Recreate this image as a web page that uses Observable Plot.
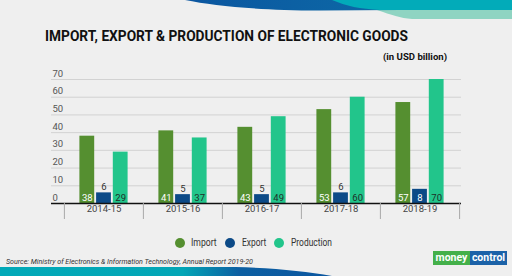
<!DOCTYPE html>
<html>
<head>
<meta charset="utf-8">
<script src="https://cdn.jsdelivr.net/npm/d3@7"></script>
<script src="https://cdn.jsdelivr.net/npm/@observablehq/plot@0.6"></script>
<style>
  html, body { margin: 0; padding: 0; background: #efefef; }
  #wrap { position: relative; width: 512px; height: 276px; overflow: hidden; background: #efefef; font-family: Roboto, "Noto Sans", sans-serif; }
  .abs { position: absolute; white-space: nowrap; }
  #title { left: 45px; top: 28px; font-size: 14px; line-height: 16px; font-weight: 700; color: #111; transform-origin: left center; }
  #unit { left: 383px; top: 52px; font-size: 8.5px; line-height: 10px; font-weight: 700; color: #111; transform-origin: left center; }
  #chart { left: 0; top: 60px; }
  #legend { left: 0; top: 236px; width: 512px; height: 14px; }
  .key { position: absolute; top: 0; font-size: 10.5px; line-height: 13px; color: #333; transform-origin: left center; }
  .dot { position: absolute; top: 2px; width: 10px; height: 10px; border-radius: 50%; }
  #source { left: 6px; top: 257px; font-size: 7.5px; line-height: 10px; font-style: italic; color: #333; transform-origin: left center; }
  #logo { left: 433px; top: 251px; height: 14px; display: flex; font-weight: 700; font-size: 10.5px; line-height: 14px; color: #fff; }
  #logo span { display: block; text-align: center; }
</style>
</head>
<body>
<div id="wrap">
  <svg class="abs" style="left:0;top:0" width="512" height="276">
    <defs>
      <linearGradient id="topBlue" x1="0" x2="1" y1="0" y2="0">
        <stop offset="0" stop-color="#0b56a0"/>
        <stop offset="1" stop-color="#0d6aa6"/>
      </linearGradient>
      <linearGradient id="bottomBand" x1="0" x2="1" y1="0" y2="0">
        <stop offset="0" stop-color="#02a9b8"/>
        <stop offset="0.55" stop-color="#03a6b6"/>
        <stop offset="0.72" stop-color="#0c5fa2"/>
        <stop offset="1" stop-color="#0b56a0"/>
      </linearGradient>
    </defs>
    <path d="M377,10 C392,15 400,18 412,19 L512,19 L512,10 Z" fill="#8fd4c2"/>
    <path d="M185,0 C215,6 255,10 320,10.5 L400,10 L400,0 Z" fill="url(#topBlue)"/>
    <path d="M332,0 C346,6 360,9 380,10 L512,10 L512,0 Z" fill="#02abb9"/>
    <path d="M0,267 L235,267 C275,268 305,271 332,276 L0,276 Z" fill="url(#bottomBand)"/>
  </svg>
  <div id="title" class="abs">IMPORT, EXPORT &amp; PRODUCTION OF ELECTRONIC GOODS</div>
  <div id="unit" class="abs">(in USD billion)</div>
  <div id="chart" class="abs"></div>
  <div id="legend" class="abs"></div>
  <div id="source" class="abs">Source: Ministry of Electronics &amp; Information Technology, Annual Report 2019-20</div>
  <div id="logo" class="abs"><span style="background:#44b04a;width:37px">money</span><span style="background:#1b62a8;width:37px">control</span></div>
</div>
<script>
// Fiscal years and values in USD billion
const years = ["2014-15", "2015-16", "2016-17", "2017-18", "2018-19"];
const importValues = [38, 41, 43, 53, 57];
const exportValues = [6, 5, 5, 6, 8];
const productionValues = [29, 37, 49, 60, 70];
const seriesNames = ["Import", "Export", "Production"];
const seriesColors = ["#558f30", "#0c4a87", "#22c58b"];
const yTicks = [0, 10, 20, 30, 40, 50, 60, 70];

const seriesValues = [importValues, exportValues, productionValues];
const rows = seriesNames.flatMap((s, i) =>
  years.map((year, j) => ({ year, series: s, value: seriesValues[i][j] }))
);

const band = (459.3 - 63.3) / years.length; // width of one year slot
const barW = 15, barStep = 16.7;
const inset = (band - barW) / 2;

const bars = seriesNames.map((s, i) =>
  Plot.barY(rows.filter(d => d.series === s), {
    x: "year", y: "value", fill: "series",
    dx: (i - 1) * barStep, insetLeft: inset, insetRight: inset
  })
);

// value labels: at the foot of each bar, or above a bar too short to hold one
const labelInside = d => d.series !== "Export" || d.value >= 7;
const labelFill = d => d.series === "Production" ? "#1e2f28" : "#ffffff";
const valueLabels = seriesNames.map((s, i) => [
  Plot.text(rows.filter(d => d.series === s && labelInside(d)), {
    x: "year", y: () => 0, text: d => String(d.value),
    dx: (i - 1) * barStep, dy: -6, fill: labelFill, fontSize: 9.5
  }),
  Plot.text(rows.filter(d => d.series === s && !labelInside(d)), {
    x: "year", y: "value", text: d => String(d.value),
    dx: (i - 1) * barStep, dy: -5.5, fill: "#333", fontSize: 9.5
  })
]).flat();

const chart = Plot.plot({
  width: 512,
  height: 165,
  marginLeft: 51,
  marginRight: 51,
  marginTop: 19,
  marginBottom: 22,
  style: { background: "transparent", fontFamily: "Roboto, 'Noto Sans', sans-serif" },
  x: { type: "band", domain: years, range: [63.3, 459.3], padding: 0, axis: null },
  y: { domain: [0, 70], axis: null },
  color: { domain: seriesNames, range: seriesColors },
  marks: [
    Plot.ruleY(yTicks.filter(t => t > 0), { stroke: "#d2d2d2", strokeWidth: 1 }),
    Plot.text(yTicks, {
      y: d => d, text: d => String(d), frameAnchor: "left", textAnchor: "start",
      dx: 1, dy: -6, fill: "#555", fontSize: 9.5
    }),
    ...bars,
    ...valueLabels,
    Plot.ruleY([0], { stroke: "#111", strokeWidth: 1.6 }),
    Plot.ruleX(years, { x: d => d, dx: -band / 2, stroke: "#a8a8a8", insetTop: 124, insetBottom: -16 }),
    Plot.ruleX(years.slice(-1), { x: d => d, dx: band / 2, stroke: "#a8a8a8", insetTop: 124, insetBottom: -16 }),
    Plot.text(years, { x: d => d, text: d => d, frameAnchor: "bottom", dy: 8.5, fill: "#444", fontSize: 9.5 })
  ]
});
document.getElementById("chart").appendChild(chart);

// legend with round keys
const legend = document.getElementById("legend");
const dotX = [175, 224.5, 274];
const labelX = [191, 241.5, 291];
const labelW = [25.7, 24.3, 41];
const keys = seriesNames.map((s, i) => {
  const dot = document.createElement("div");
  dot.className = "dot";
  dot.style.left = dotX[i] + "px";
  dot.style.background = seriesColors[i];
  legend.appendChild(dot);
  const key = document.createElement("div");
  key.className = "key";
  key.style.left = labelX[i] + "px";
  key.textContent = s;
  legend.appendChild(key);
  return key;
});

// squeeze text blocks horizontally to their set widths
function fitWidth(el, w) {
  const actual = el.getBoundingClientRect().width;
  if (actual > 0) el.style.transform = `scaleX(${w / actual})`;
}
fitWidth(document.getElementById("title"), 363);
fitWidth(document.getElementById("unit"), 64);
fitWidth(document.getElementById("source"), 247);
keys.forEach((k, i) => fitWidth(k, labelW[i]));
</script>
</body>
</html>
